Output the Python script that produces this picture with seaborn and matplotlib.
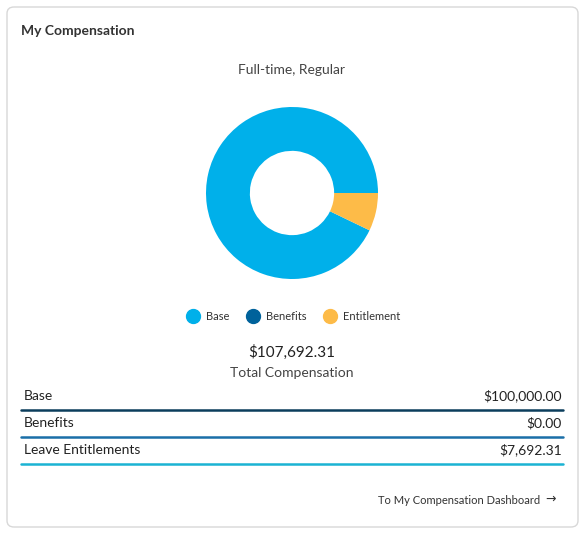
import matplotlib
matplotlib.use("Agg")
import matplotlib.pyplot as plt
from matplotlib.patches import FancyBboxPatch
from matplotlib.lines import Line2D
import seaborn as sns

sns.set_theme(style="white")
plt.rcParams['font.family'] = ['Lato', 'DejaVu Sans']

categories = ["Base", "Benefits", "Entitlement"]
values = [100000.00, 0.00, 7692.31]
row_labels = ["Base", "Benefits", "Leave Entitlements"]
row_values = ["$100,000.00", "$0.00", "$7,692.31"]
colors = ["#00b0ea", "#00629b", "#fdbb48"]
line_colors = ["#0b3d5c", "#1a6fa8", "#1ab3d3"]

W, H = 585, 537
fig = plt.figure(figsize=(W / 100, H / 100), dpi=100)
fig.patch.set_facecolor("white")

def fx(x): return x / W
def fy(y): return 1 - y / H

card = FancyBboxPatch((fx(7), fy(527)), fx(571), fy(7) - fy(527),
                      boxstyle="round,pad=0,rounding_size=0.012",
                      transform=fig.transFigure, facecolor="white",
                      edgecolor="#d8d8d8", linewidth=1, zorder=-5)
fig.patches.append(card)

fig.text(fx(21), fy(31), "My Compensation", fontsize=10, fontweight="bold",
         color="#333333", va="center")
fig.text(fx(292), fy(70), "Full-time, Regular", fontsize=10, color="#444444",
         ha="center", va="center")

# donut
r = 86
ax = fig.add_axes([fx(292 - r), fy(193 + r), fx(2 * r), fy(0) - fy(2 * r)])
ax.patch.set_alpha(0)
ax.pie(values, colors=colors, startangle=0, counterclock=True,
       wedgeprops=dict(width=0.51, edgecolor="none"))
ax.set_xlim(-1, 1)
ax.set_ylim(-1, 1)
ax.set_aspect("equal")
ax.axis("off")

# legend
handles = [Line2D([0], [0], marker="o", linestyle="", markersize=10,
                  markerfacecolor=c, markeredgecolor=c) for c in colors]
fig.legend(handles, categories, loc="center", bbox_to_anchor=(fx(291), fy(316)),
           ncol=3, frameon=False, fontsize=8, handletextpad=0.2,
           columnspacing=1.1, labelcolor="#333333")

fig.text(fx(292), fy(352), "$" + f"{sum(values):,.2f}", fontsize=11,
         color="#222222", ha="center", va="center")
fig.text(fx(292), fy(373), "Total Compensation", fontsize=10, color="#444444",
         ha="center", va="center")

row_y = [396, 423, 450]
for i, (lab, val) in enumerate(zip(row_labels, row_values)):
    fig.text(fx(24), fy(row_y[i]), lab, fontsize=10, color="#222222", va="center")
    fig.text(fx(562), fy(row_y[i]), val, fontsize=10, color="#222222",
             va="center", ha="right")
    y = fy(row_y[i] + 14)
    fig.add_artist(Line2D([fx(21), fx(563)], [y, y], color=line_colors[i],
                          linewidth=1.8, transform=fig.transFigure))

fig.text(fx(540), fy(500), "To My Compensation Dashboard", fontsize=8,
         color="#333333", ha="right", va="center")
fig.text(fx(556), fy(499), "\u2192", fontsize=9, color="#333333",
         ha="right", va="center", family="DejaVu Sans")

fig.savefig("out.png", dpi=100, facecolor="white")
